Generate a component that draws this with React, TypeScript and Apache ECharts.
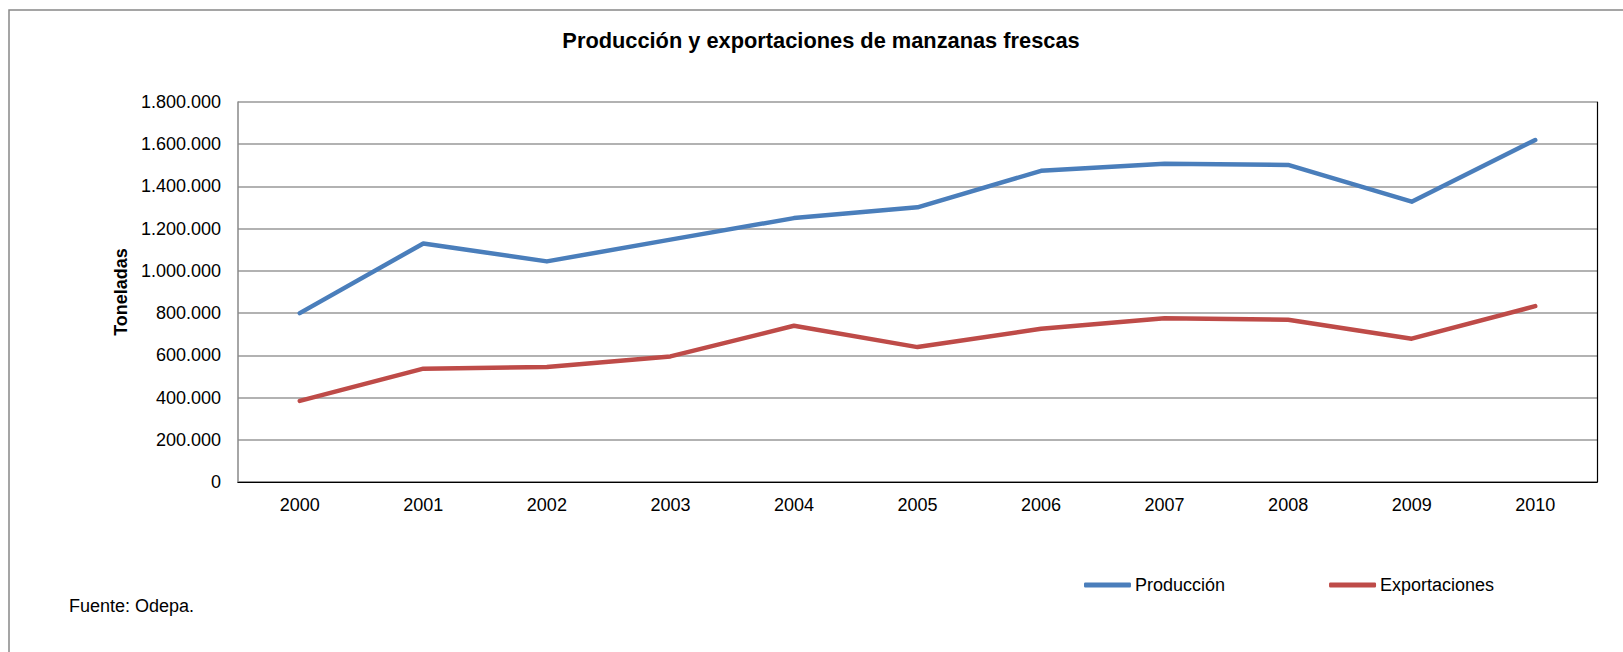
import React, { useEffect, useRef } from "react";
import * as echarts from "echarts";

const years = ["2000", "2001", "2002", "2003", "2004", "2005", "2006", "2007", "2008", "2009", "2010"];
const produccion = [800000, 1130000, 1045000, 1148000, 1250000, 1301000, 1474000, 1507000, 1502000, 1328000, 1620000];
const exportaciones = [384000, 537000, 545000, 595000, 740000, 639000, 726000, 776000, 769000, 679000, 833000];
const seriesNames = ["Producción", "Exportaciones"];
const titleText = "Producción y exportaciones de manzanas frescas";
const yAxisName = "Toneladas";
const sourceText = "Fuente: Odepa.";

const FONT = "'Liberation Sans', Arial, sans-serif";

function fmt(v: number): string {
  return String(Math.round(v)).replace(/\B(?=(\d{3})+(?!\d))/g, ".");
}

export default function App() {
  const ref = useRef<HTMLDivElement>(null);
  useEffect(() => {
    if (!ref.current) return;
    const chart = echarts.init(ref.current, null, { renderer: "svg" });
    chart.setOption({
      animation: false,
      backgroundColor: "#ffffff",
      textStyle: { fontFamily: FONT },
      title: {
        text: titleText,
        left: 816,
        top: 24,
        textAlign: "center",
        textStyle: { fontFamily: FONT, fontSize: 21.8, fontWeight: "bold", color: "#000" },
      },
      graphic: [
        {
          type: "rect",
          shape: { x: 9, y: 10, width: 1640, height: 700 },
          style: { fill: "none", stroke: "#888888", lineWidth: 1.5 },
          silent: true,
        },
        {
          type: "text",
          x: 69,
          y: 597,
          style: { text: sourceText, fontFamily: FONT, fontSize: 18, fill: "#000" },
        },
      ],
      legend: {
        left: 1079,
        top: 571,
        itemWidth: 47,
        itemHeight: 5,
        itemGap: 104,
        icon: "roundRect",
        textStyle: { fontFamily: FONT, fontSize: 18, color: "#000", padding: [0, 0, 0, -1] },
        data: seriesNames,
      },
      grid: {
        left: 238,
        top: 102,
        right: 26,
        bottom: 170,
        show: false,
        containLabel: false,
      },
      xAxis: [
        {
          type: "category",
          data: years,
          boundaryGap: true,
          axisLine: { show: true, lineStyle: { color: "#888888", width: 1.5 } },
          axisTick: { show: false },
          axisLabel: { fontFamily: FONT, fontSize: 18, color: "#000", margin: 14 },
          splitLine: { show: false },
        },
        {
          type: "category",
          position: "top",
          data: years,
          boundaryGap: true,
          z: 5,
          axisLine: { show: true, lineStyle: { color: "#000000", width: 1.2 } },
          axisTick: { show: false },
          axisLabel: { show: false },
          splitLine: { show: false },
        },
      ],
      yAxis: [
        {
          type: "value",
          min: 0,
          max: 1800000,
          interval: 200000,
          name: yAxisName,
          nameLocation: "middle",
          nameGap: 104,
          nameTextStyle: { fontFamily: FONT, fontSize: 18, fontWeight: "bold", color: "#000" },
          axisLine: { show: true, lineStyle: { color: "#888888", width: 1.5 } },
          axisTick: { show: false },
          axisLabel: { fontFamily: FONT, fontSize: 18, color: "#000", margin: 17, formatter: (v: number) => fmt(v) },
          splitLine: { show: true, lineStyle: { color: "#999999", width: 1.5 } },
        },
        {
          type: "value",
          position: "right",
          min: 0,
          max: 1800000,
          interval: 200000,
          z: 5,
          axisLine: { show: true, lineStyle: { color: "#000000", width: 1.2 } },
          axisTick: { show: false },
          axisLabel: { show: false },
          splitLine: { show: false },
        },
      ],
      series: [
        {
          name: seriesNames[0],
          type: "line",
          data: produccion,
          symbol: "none",
          color: "#4A7EBB",
          lineStyle: { color: "#4A7EBB", width: 4.5, cap: "round", join: "round" },
        },
        {
          name: seriesNames[1],
          type: "line",
          data: exportaciones,
          symbol: "none",
          color: "#BE4B48",
          lineStyle: { color: "#BE4B48", width: 4.5, cap: "round", join: "round" },
        },
      ],
    });
    return () => chart.dispose();
  }, []);
  return (
    <div
      ref={ref}
      style={{ position: "fixed", left: 0, top: 0, width: 1623, height: 652 }}
    />
  );
}
